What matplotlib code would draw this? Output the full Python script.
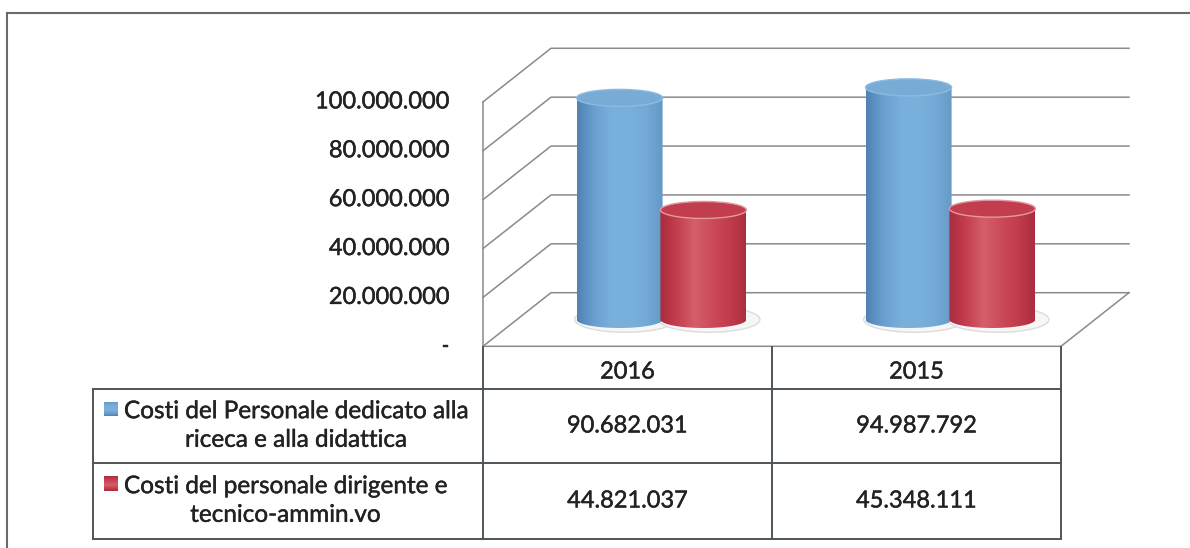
import numpy as np
import matplotlib
matplotlib.use('Agg')
import matplotlib.pyplot as plt
import matplotlib.transforms as mtransforms
import matplotlib.patheffects as pe
from matplotlib.patches import Ellipse, PathPatch
from matplotlib.path import Path
from matplotlib.colors import LinearSegmentedColormap
from matplotlib.lines import Line2D

# --- dati ---
anni = ['2016', '2015']
serie = ['Costi del Personale dedicato alla\nriceca e alla didattica',
         'Costi del personale dirigente e\ntecnico-ammin.vo']
costi_ricerca = [90682031, 94987792]
costi_tecnico = [44821037, 45348111]
tick_valori = [0, 20000000, 40000000, 60000000, 80000000, 100000000]
tick_etichette = ['-', '20.000.000', '40.000.000', '60.000.000', '80.000.000', '100.000.000']

plt.rcParams['font.family'] = ['Lato', 'DejaVu Sans']
TESTO = '#222222'
GRIGIO = '#8a8a8a'
BORDO = '#4d5558'
spesso = [pe.withStroke(linewidth=0.3, foreground=TESTO)]

W, H = 1190, 548
fig = plt.figure(figsize=(W / 100, H / 100), dpi=100)
ax = fig.add_axes([0, 0, 1, 1])
ax.set_axis_off()

# scala del piano centrale (a meta' profondita')
PX_CAT = 289.0       # px per categoria
PX_VAL = 2.444e-6    # px per unita' di valore
x0, y0 = 661.5, 319.5
dx = 34 / PX_CAT     # spostamento prospettico (mezza profondita')
dy = 26.8 / PX_VAL

def px_x(p):
    return (p - x0) / PX_CAT

def riga(r):
    # riga in pixel (dall'alto) -> frazione d'asse
    return 1 - r / H

def limiti():
    ax.set_xlim(px_x(0), px_x(W))
    ax.set_ylim(-(H - y0) / PX_VAL, y0 / PX_VAL)

limiti()

xl_f, xl_b = -0.5 - dx, -0.5 + dx
xr_f, xr_b = 1.5 - dx, 1.5 + dx

# pareti e griglia
for v in tick_valori:
    ax.plot([xl_f, xl_b, xr_b], [v - dy, v + dy, v + dy], color=GRIGIO, lw=1.1, zorder=1)
ax.plot([xl_f, xl_f], [-dy, tick_valori[-1] - dy], color=GRIGIO, lw=1.1, zorder=1)
ax.plot([xl_f, xr_f, xr_b], [-dy, -dy, dy], color=GRIGIO, lw=1.1, zorder=1)

for v, lab in zip(tick_valori, tick_etichette):
    ax.text(xl_f - 33 / PX_CAT, v - dy, lab, ha='right', va='center',
            fontsize=17, color=TESTO, path_effects=spesso)

# cilindri
cm_blu = LinearSegmentedColormap.from_list(
    'blu', ['#4f82b2', '#6a9fcf', '#78afdb', '#7ab1dc', '#74aad6', '#6598c6'])
cm_rosso = LinearSegmentedColormap.from_list(
    'rosso', ['#a92c3e', '#c43e4f', '#d45f6b', '#cc4b5a', '#c23c4d', '#ab2e40'])
stili = [(costi_ricerca, cm_blu, '#78acd6', '#8dbbe0', -0.145),
         (costi_tecnico, cm_rosso, '#c23e4f', '#e09aa3', 0.145)]

w = 43 / PX_CAT
ry = 8.5 / PX_VAL
t = np.linspace(np.pi, 2 * np.pi, 60)
grad = np.linspace(0, 1, 256).reshape(1, -1)

for i in range(len(anni)):
    for valori, cmap, top, rim, off in stili:
        xc = i + off
        v = valori[i]
        ax.add_patch(Ellipse((xc + 0.02, 0), 2 * w * 1.18, 2 * ry * 1.5,
                             facecolor='#f6f6f6', edgecolor='#dcdcdc', lw=1, zorder=2))
        verts = [(xc - w, v)] + list(zip(xc + w * np.cos(t), ry * np.sin(t))) + [(xc + w, v), (xc - w, v)]
        corpo = PathPatch(Path(verts), facecolor='none', edgecolor='none', transform=ax.transData)
        ax.add_patch(corpo)
        im = ax.imshow(grad, extent=[xc - w, xc + w, -ry, v], aspect='auto',
                       cmap=cmap, interpolation='bilinear', zorder=3)
        im.set_clip_path(corpo)
        ax.add_patch(Ellipse((xc, v), 2 * w, 2 * ry, facecolor=top,
                             edgecolor=rim, lw=1.0, zorder=4))

limiti()

# tabella dati
tr = mtransforms.blended_transform_factory(ax.transData, ax.transAxes)
x_leg = xl_f - 390 / PX_CAT
r_top, r_head, r_mid, r_bot = 346.5, 388.5, 463, 538.5
kw = dict(color=BORDO, lw=1.4, transform=tr, zorder=5)
ax.plot([x_leg, xr_f], [riga(r_head)] * 2, **kw)
ax.plot([x_leg, xr_f], [riga(r_mid)] * 2, **kw)
ax.plot([x_leg, xr_f], [riga(r_bot)] * 2, **kw)
ax.plot([x_leg, x_leg], [riga(r_head), riga(r_bot)], **kw)
for xb in [xl_f, 0.5 - dx, xr_f]:
    ax.plot([xb, xb], [riga(r_top), riga(r_bot)], **kw)

for i, anno in enumerate(anni):
    xc = i - dx
    ax.text(xc, riga(372), anno, transform=tr, ha='center', va='center',
            fontsize=17, color=TESTO, path_effects=spesso)
    for valori, r in [(costi_ricerca, 426), (costi_tecnico, 501)]:
        ax.text(xc, riga(r), f'{valori[i]:,}'.replace(',', '.'), transform=tr,
                ha='center', va='center', fontsize=17, color=TESTO, path_effects=spesso)

for nome, cmap, r in [(serie[0], cm_blu, 426), (serie[1], cm_rosso, 501)]:
    ax.text(px_x(124), riga(r), nome, transform=tr, ha='left', va='center',
            multialignment='center', linespacing=1.45, fontsize=17.5, color=TESTO,
            path_effects=spesso)
    ax.imshow(grad.T[::-1], extent=[px_x(104), px_x(118), riga(r - 10), riga(r - 24)],
              transform=tr, aspect='auto', cmap=cmap, zorder=5)

limiti()

# cornice esterna
fig.add_artist(Line2D([7 / W, 7 / W], [0, 1 - 13 / H], color='#6a6a6a', lw=1.5))
fig.add_artist(Line2D([7 / W, 1], [1 - 13 / H, 1 - 13 / H], color='#6a6a6a', lw=1.5))

fig.savefig('out.png', dpi=100)
